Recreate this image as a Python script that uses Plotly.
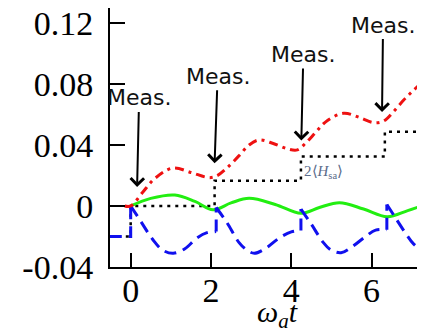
import plotly.graph_objects as go

# ---- data ----
t_red = [-0.15, 0, 0.3, 0.6, 1.05, 1.5, 1.95, 2.15, 2.4, 2.7, 2.95, 3.2, 3.55, 3.9, 4.15,
         4.35, 4.6, 4.85, 5.3, 5.7, 6.05, 6.3, 6.55, 6.8, 7.05, 7.35]
y_red = [0, 0, 0.009, 0.018, 0.0249, 0.022, 0.0186, 0.0198, 0.025, 0.033, 0.040, 0.0433, 0.041,
         0.0375, 0.0368, 0.041, 0.048, 0.055, 0.0608, 0.058, 0.0546, 0.0557, 0.062, 0.0695,
         0.076, 0.083]

t_green = [0, 0.5, 1.1, 1.6, 2.05, 2.5, 2.95, 3.6, 4.24, 4.7, 5.2, 5.8, 6.39, 6.9, 7.35]
y_green = [0, 0.005, 0.0072, 0.003, -0.0025, 0.002, 0.005, 0.001, -0.0048, -0.001, 0.0022,
           -0.002, -0.007, -0.003, 0.001]

# blue dashed curve, one list per segment between measurements
t_blue_pre = [-0.52, 0, 0]
y_blue_pre = [-0.02, -0.02, 0]
t_blue_1 = [0, 0.25, 0.55, 0.8, 1.06, 1.35, 1.65, 1.9, 2.13]
y_blue_1 = [0, -0.010, -0.022, -0.029, -0.031, -0.028, -0.021, -0.0175, -0.0168]
t_blue_2 = [2.13, 2.4, 2.7, 2.9, 3.08, 3.35, 3.7, 4.0, 4.24]
y_blue_2 = [-0.001, -0.011, -0.024, -0.029, -0.031, -0.028, -0.021, -0.017, -0.016]
t_blue_3 = [4.24, 4.5, 4.8, 5.0, 5.24, 5.5, 5.85, 6.1, 6.38]
y_blue_3 = [-0.002, -0.012, -0.024, -0.029, -0.0306, -0.027, -0.020, -0.0158, -0.0155]
t_blue_4 = [6.38, 6.6, 6.85, 7.05, 7.35]
y_blue_4 = [0.001, -0.008, -0.018, -0.025, -0.031]
t_jumps = [2.13, 4.24, 6.38]
y_jump_lo = [-0.0168, -0.016, -0.0155]
y_jump_hi = [-0.001, -0.002, 0.001]

# black dotted staircase 2<H_sa>
t_step = [-0.52, 0, 2.09, 4.24, 6.33, 7.4]
y_step = [-0.02, 0, 0.0166, 0.0325, 0.0487, 0.0487]

# measurement arrows (tip positions)
t_meas = [0.16, 2.09, 4.25, 6.26]
y_meas = [0.0125, 0.028, 0.043, 0.0616]
meas_label = "Meas."

x_ticks = [0, 2, 4, 6]
x_ticktext = ["0", "2", "4", "6"]
y_ticks = [-0.04, 0, 0.04, 0.08, 0.12]
y_ticktext = ["-0.04", "0", "0.04", "0.08", "0.12"]

fig = go.Figure()

fig.add_trace(go.Scatter(x=t_step, y=y_step, mode="lines", line_shape="hv",
                         line=dict(color="black", width=2.5, dash="3px,5px")))
fig.add_trace(go.Scatter(x=t_green, y=y_green, mode="lines", line_shape="spline",
                         line=dict(color="#22ee11", width=3)))

blue = dict(color="#1010ee", width=3, dash="12px,7px")
fig.add_trace(go.Scatter(x=t_blue_pre, y=y_blue_pre, mode="lines", line=blue))
for tt, yy in [(t_blue_1, y_blue_1), (t_blue_2, y_blue_2), (t_blue_3, y_blue_3), (t_blue_4, y_blue_4)]:
    fig.add_trace(go.Scatter(x=tt, y=yy, mode="lines", line_shape="spline", line=blue))
for tj, lo, hi in zip(t_jumps, y_jump_lo, y_jump_hi):
    fig.add_trace(go.Scatter(x=[tj, tj], y=[lo, hi], mode="lines", line=blue))

fig.add_trace(go.Scatter(x=t_red, y=y_red, mode="lines", line_shape="spline",
                         line=dict(color="#ee1111", width=3, dash="9px,5px,3px,5px")))

# mirrored right ticks
fig.add_trace(go.Scatter(x=[0], y=[0], yaxis="y2", mode="markers",
                         marker=dict(opacity=0), showlegend=False, hoverinfo="skip"))

offsets = [(2, -89), (3, -87), (2, -86), (1, -87)]
for tm, ym, (ax, ay) in zip(t_meas, y_meas, offsets):
    fig.add_annotation(x=tm, y=ym, xref="x", yref="y", text=meas_label, showarrow=True,
                       ax=ax, ay=ay, arrowhead=4, arrowsize=1.3, arrowwidth=2,
                       arrowcolor="black", standoff=0,
                       font=dict(family="DejaVu Sans", size=22, color="#111111"))

fig.add_annotation(x=4.27, y=0.0223, xref="x", yref="y", xanchor="left", showarrow=False,
                   text="2⟨<i>H</i><sub>sa</sub>⟩",
                   font=dict(family="Liberation Serif", size=15, color="#5b6b8a"))

fig.add_annotation(x=0.533, y=-0.18, xref="paper", yref="paper", showarrow=False,
                   xanchor="center", yanchor="middle",
                   text="<i>ω<sub>a</sub>t</i>",
                   font=dict(family="Liberation Serif", size=30, color="black"))

# the page body adds an 8px margin, so the figure is 8px smaller than the window
fig.update_layout(
    width=417, height=324,
    margin=dict(l=102, r=0, t=0, b=65, pad=0),
    paper_bgcolor="white", plot_bgcolor="white",
    showlegend=False,
    xaxis=dict(range=[-0.515, 7.33], showgrid=False, zeroline=False, automargin=False,
               showline=True, linecolor="black", linewidth=2, ticklabeloverflow="allow",
               ticks="inside", ticklen=14, tickwidth=2, tickcolor="black",
               tickvals=x_ticks, ticktext=x_ticktext, ticklabelstandoff=-8,
               tickfont=dict(family="Liberation Serif", size=34, color="black")),
    yaxis=dict(range=[-0.04, 0.1298], showgrid=False, zeroline=False, automargin=False,
               showline=True, linecolor="black", linewidth=2, ticklabeloverflow="allow",
               ticks="inside", ticklen=15, tickwidth=2, tickcolor="black",
               tickvals=y_ticks, ticktext=y_ticktext, ticklabelstandoff=8,
               tickfont=dict(family="Liberation Serif", size=34, color="black")),
    yaxis2=dict(range=[-0.04, 0.1298], overlaying="y", side="right", showgrid=False,
                zeroline=False, showline=False, ticks="inside", ticklen=8, tickwidth=2,
                automargin=False, tickcolor="black", tickvals=y_ticks, showticklabels=False),
)

fig.write_html("out.html")
